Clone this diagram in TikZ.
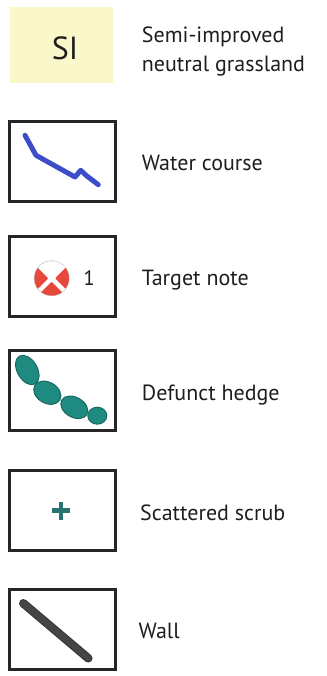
\documentclass[tikz,border=0pt]{standalone}
\usepackage{fontspec}
\setmainfont{PT Sans}
\usetikzlibrary{calc}
\definecolor{txt}{HTML}{1E1E1E}
\definecolor{siyellow}{HTML}{FAF7CB}
\definecolor{waterblue}{HTML}{3D4DC9}
\definecolor{tnred}{HTML}{E8483C}
\definecolor{hedge}{HTML}{1F8A80}
\definecolor{hedgedark}{HTML}{176A62}
\definecolor{scrub}{HTML}{2A7373}
\definecolor{wallgray}{HTML}{454545}
\tikzset{
  keybox/.style={draw=black!85, line width=3pt, minimum width=106pt, minimum height=80pt, inner sep=0pt},
  label/.style={anchor=base west, inner sep=0pt, text=txt, font=\fontsize{22}{29}\selectfont, align=left},
}
\begin{document}
\begin{tikzpicture}[x=1pt,y=-1pt]
\useasboundingbox (0,0) rectangle (326,676);
% 1 Semi-improved
\node[fill=siyellow, minimum width=103pt, minimum height=76pt, inner sep=0pt] (b1) at (61.5,45) {};
\node[text=txt, font=\fontsize{32}{32}\selectfont, inner sep=0pt] (si) at (65,48.5) {SI};
\node[label, anchor=base west] (t1a) at (141.7,43) {Semi-improved};
\node[label, anchor=base west] (t1b) at (141.7,72) {neutral grassland};
% 2 Water course
\node[keybox] (b2) at (62.5,162) {};
\draw[waterblue, line width=5pt, line cap=round, line join=round]
  (25,135.3) -- (36,155.3) -- (75,177) -- (80.7,170.3) -- (86,175.3) -- (98.3,184.7);
\node[label] (t2) at (141.7,171) {Water course};
% 3 Target note
\node[keybox] (b3) at (62.5,276) {};
\coordinate (tc) at (51.7,278.3);
\fill[tnred] (tc) circle (17.5);
\fill[white] (tc) -- ++(225:18) arc (225:315:18) -- cycle;
\draw[white, line width=4.5pt] ($(tc)+(45:18)$) -- ($(tc)+(225:18)$);
\draw[white, line width=4.5pt] ($(tc)+(135:18)$) -- ($(tc)+(315:18)$);
\fill[white] (tc) circle (4);
\draw[gray!60, densely dotted, line width=0.8pt] (tc) circle (17.5);
\node[text=txt, font=\fontsize{21}{21}\selectfont, anchor=base, inner sep=0pt] (one) at (89,285) {1};
\node[label] (t3) at (141.7,285) {Target note};
% 4 Defunct hedge
\node[keybox] (b4) at (62.5,390.5) {};
\begin{scope}[fill=hedge, draw=hedgedark, line width=1pt]
  \filldraw (27.3,370) ellipse [x radius=16, y radius=10, rotate=-60];
  \filldraw (47.3,392.7) ellipse [x radius=14.5, y radius=10.5, rotate=-30];
  \filldraw (74.3,407.3) ellipse [x radius=14.5, y radius=10, rotate=-30];
  \filldraw (97.3,415.7) ellipse [x radius=9.5, y radius=8.5];
\end{scope}
\node[label] (t4) at (141.7,400) {Defunct hedge};
% 5 Scattered scrub
\node[keybox] (b5) at (62.5,510) {};
\draw[scrub, line width=4.5pt] (52,510.5) -- (70,510.5);
\draw[scrub, line width=4.5pt] (61,502) -- (61,520);
\node[label] (t5) at (140,520) {Scattered scrub};
% 6 Wall
\node[keybox] (b6) at (62.5,629.5) {};
\draw[black!80, line width=8.5pt, line cap=round] (23.3,603.3) -- (88.3,658.3);
\draw[wallgray, line width=6.5pt, line cap=round] (23.3,603.3) -- (88.3,658.3);
\node[label] (t6) at (138.5,638) {Wall};
\end{tikzpicture}
\end{document}
